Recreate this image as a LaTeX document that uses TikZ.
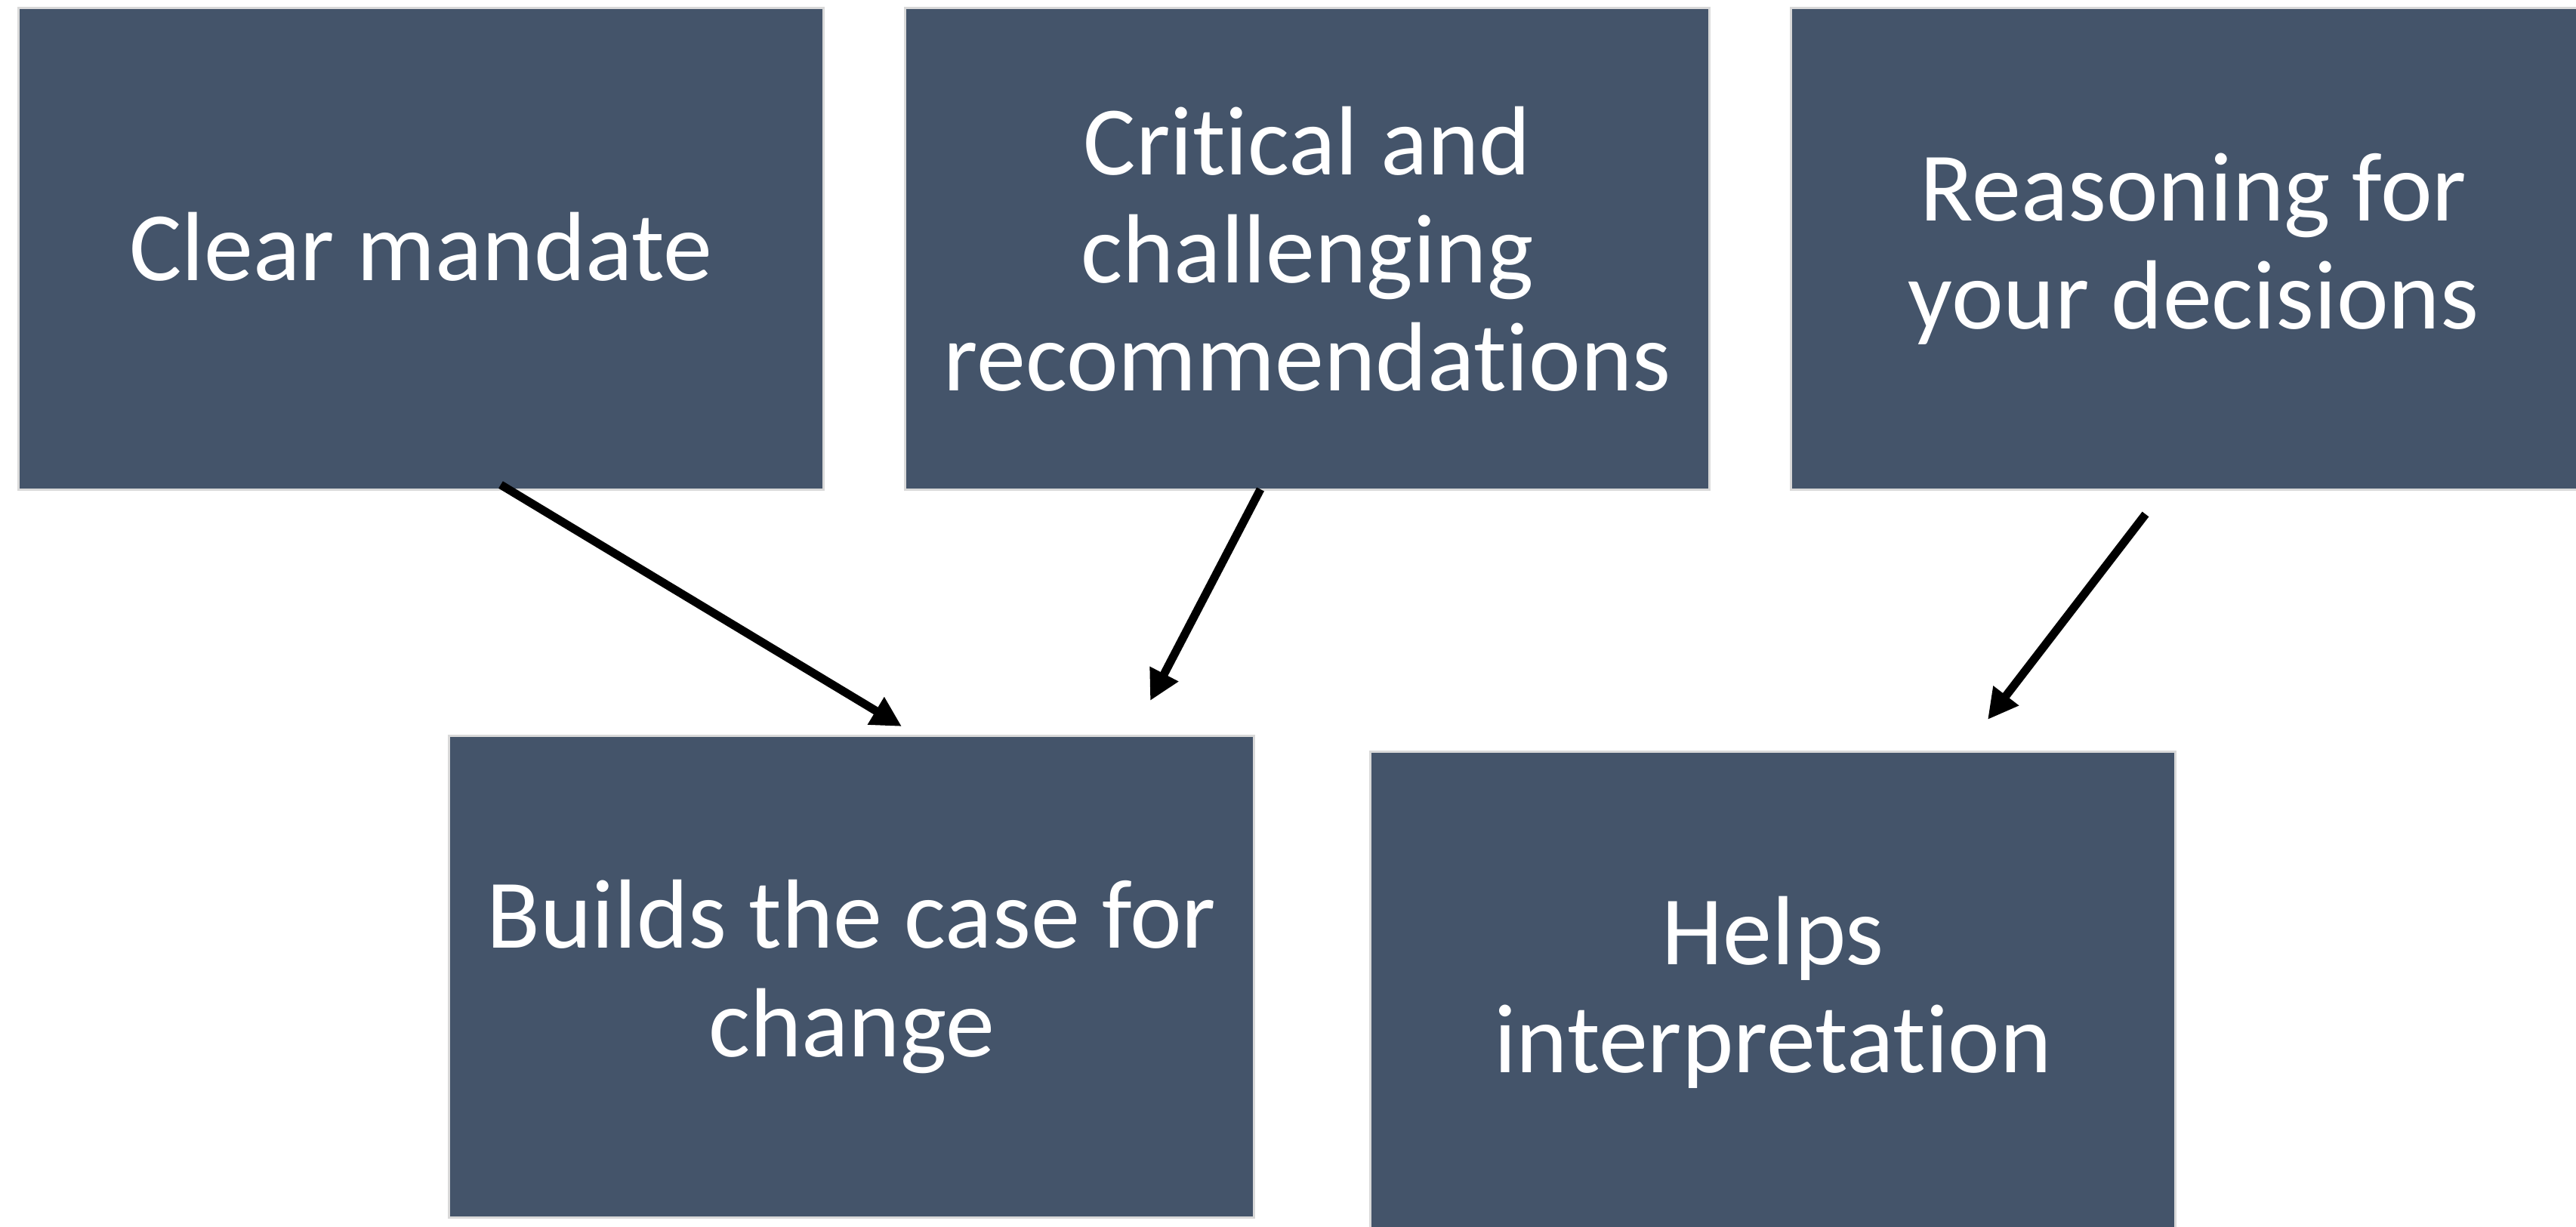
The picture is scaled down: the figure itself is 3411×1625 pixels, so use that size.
\documentclass[tikz,border=0pt]{standalone}
\usepackage{fontspec}
\setmainfont{Carlito}[Ligatures=NoCommon]
\usetikzlibrary{arrows.meta}

\definecolor{boxfill}{RGB}{68,84,106}
\definecolor{boxedge}{RGB}{217,217,217}

\tikzset{
  card/.style={rectangle, fill=boxfill, draw=boxedge, line width=0.03cm,
    minimum width=10.65cm, minimum height=6.37cm, inner sep=0pt,
    align=center, text=white, font=\fontsize{37}{40.7}\selectfont},
  link/.style={draw=black, line width=0.11cm,
    -{Triangle[length=0.4cm,width=0.4cm]}}
}

\begin{document}
\begin{tikzpicture}[x=0.01cm,y=0.01cm,yscale=-1,xscale=1]
\useasboundingbox (0,0) rectangle (3411,1625);

%Shape: Rectangle [top row]
\node[card, text depth=0.2em] (mandate) at (557.5,329.5) {Clear mandate};
\node[card] (critical) at (1731,329.5) {Critical and\\challenging\\recommendations};
\node[card] (reasoning) at (2904.5,329.5) {Reasoning for\\your decisions};

%Shape: Rectangle [bottom row]
\node[card] (builds) at (1127.5,1293.5) {Builds the case for\\change};
\node[card] (helps) at (2347.5,1314.5) {Helps\\interpretation};

% arrow ends
\coordinate (mandate-out) at (663,642);
\coordinate (critical-out) at (1669,648);
\coordinate (reasoning-out) at (2841,681);
\coordinate (builds-in-a) at (1194,962);
\coordinate (builds-in-b) at (1523,928);
\coordinate (helps-in) at (2632,953);

%Straight Lines
\draw[link] (mandate-out) -- (builds-in-a);
\draw[link] (critical-out) -- (builds-in-b);
\draw[link] (reasoning-out) -- (helps-in);

\end{tikzpicture}
\end{document}
